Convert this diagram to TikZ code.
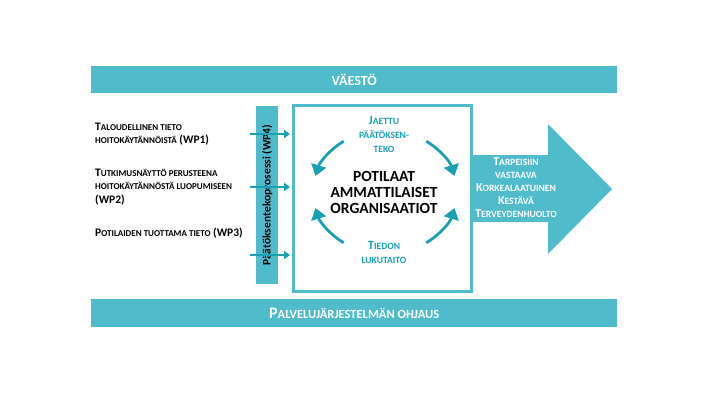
\documentclass[tikz,border=0pt]{standalone}
\usepackage{fontspec}
\usetikzlibrary{arrows.meta}
\setmainfont{Carlito}
\definecolor{teal1}{HTML}{4FBBCB}
\definecolor{tealtxt}{HTML}{1AA0B4}
\newcommand{\sm}[1]{{\fontsize{9}{10}\selectfont #1}}
\newcommand{\smb}[1]{{\fontsize{9.6}{10}\selectfont #1}}
\begin{document}
\begin{tikzpicture}[x=1pt,y=-1pt,
  band/.style={fill=teal1,draw=none},
  lbl/.style={anchor=west,font=\fontsize{11.5}{13.5}\selectfont\bfseries,align=left,inner sep=0},
  tl/.style={font=\fontsize{12.5}{14}\selectfont\bfseries,text=tealtxt,align=center,inner sep=0},
  cyc/.style={draw=tealtxt,line width=2.8pt,-{Triangle[length=11pt,width=15pt]}},
  small/.style={draw=tealtxt,line width=2.5pt,-{Triangle[length=6pt,width=8pt]}}]
\useasboundingbox (0,0) rectangle (720,405);
\fill[white] (0,0) rectangle (720,405);
\node[band,minimum width=526,minimum height=27,inner sep=0,anchor=north west] (top) at (91,66) {};
\node[text=white,font=\fontsize{14}{16}\selectfont\bfseries] at (top) {VÄESTÖ};
\node[band,minimum width=526,minimum height=28,inner sep=0,anchor=north west] (bot) at (91,299) {};
\node[text=white,font=\fontsize{16}{18}\selectfont\bfseries] at (bot) {P{\fontsize{12.5}{14}\selectfont ALVELUJÄRJESTELMÄN OHJAUS}};
% big arrow
\fill[teal1] (470,155) -- (548,155) -- (548,124) -- (612,189) -- (548,254) -- (548,222) -- (470,222) -- cycle;
\coordinate (bigA) at (470,189);
\node[text=white,font=\fontsize{12}{13}\selectfont\bfseries,align=center,inner sep=0] (goal) at (516,188)
 {T\smb{ARPEISIIN}\\\smb{VASTAAVA}\\K\smb{ORKEALAATUINEN}\\K\smb{ESTÄVÄ}\\T\smb{ERVEYDENHUOLTO}};
% box
\node[draw=teal1,line width=2.5pt,fill=white,minimum width=178,minimum height=186,inner sep=0,anchor=north west] (box) at (292,104) {};
% vertical bar
\node[band,minimum width=22,minimum height=178,inner sep=0,anchor=north west] (bar) at (256,106) {};
\node[rotate=90,font=\fontsize{11.5}{13}\selectfont\bfseries] at (bar) {Päätöksentekoprosessi (WP4)};
% small arrows
\foreach \y/\n in {134/a,187/b,255/c}{
  \coordinate (s\n) at (250,\y); \coordinate (e\n) at (290,\y);
  \draw[small] (s\n) -- (e\n);}
% labels
\node[lbl] (wp1) at (95,134) {T\sm{ALOUDELLINEN TIETO}\\\sm{HOITOKÄYTÄNNÖISTÄ} (WP1)};
\node[lbl] (wp2) at (95,187) {T\sm{UTKIMUSNÄYTTÖ PERUSTEENA}\\\sm{HOITOKÄYTÄNNÖSTÄ LUOPUMISEEN}\\(WP2)};
\node[lbl] (wp3) at (95,233) {P\sm{OTILAIDEN TUOTTAMA TIETO} (WP3)};
% centre
\node[font=\fontsize{15.5}{16}\selectfont\bfseries,align=center] (c) at (384,192) {POTILAAT\\AMMATTILAISET\\ORGANISAATIOT};
\node[tl] (jt) at (384,134) {J\smb{AETTU}\\\smb{PÄÄTÖKSEN-}\\\smb{TEKO}};
\node[tl] (td) at (384,252) {T\smb{IEDON}\\\smb{LUKUTAITO}};
\coordinate (o) at (385,192);
\draw[cyc] ([shift={(125:72 and 62)}]o) arc[start angle=125,end angle=165,x radius=72,y radius=62];
\draw[cyc] ([shift={(55:72 and 62)}]o) arc[start angle=55,end angle=15,x radius=72,y radius=62];
\draw[cyc] ([shift={(235:72 and 62)}]o) arc[start angle=235,end angle=195,x radius=72,y radius=62];
\draw[cyc] ([shift={(305:72 and 62)}]o) arc[start angle=305,end angle=345,x radius=72,y radius=62];
\end{tikzpicture}
\end{document}
